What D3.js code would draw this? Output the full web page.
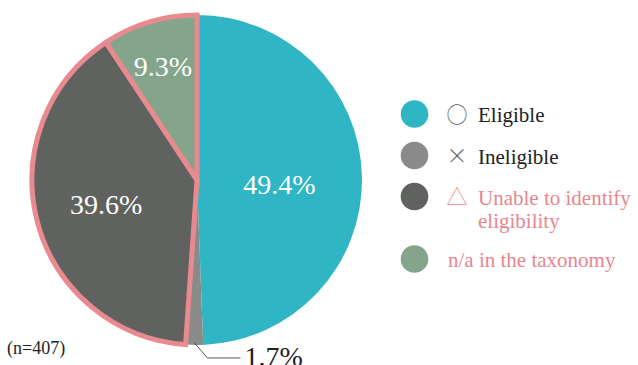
<!DOCTYPE html>
<html><head><meta charset="utf-8">
<script src="https://cdn.jsdelivr.net/npm/d3@7"></script>
<style>body{margin:0;background:#fff}svg{display:block}
text.serif{font-family:"Liberation Serif","Times New Roman",serif;}
text.sym{font-family:"Noto Sans CJK JP",sans-serif;}
</style>
</head><body>
<svg id="c" width="638" height="365"></svg>
<script>
const categories = ["Eligible","Ineligible","Unable to identify eligibility","n/a in the taxonomy"];
const values = [49.4, 1.7, 39.6, 9.3];
const valueLabels = ["49.4%","1.7%","39.6%","9.3%"];
const symbols = ["○","×","△",""];
const legendLines = [["Eligible"],["Ineligible"],["Unable to identify","eligibility"],["n/a in the taxonomy"]];
const colors = ["#2fb5c3","#8a8a8a","#60625f","#84a58c"];
const textColors = ["#222","#222","#e8868e","#e8868e"];
const outlined = [false,false,true,true];

const svg = d3.select("#c");
const cx = 197, cy = 180, r = 165;
const g = svg.append("g").attr("transform",`translate(${cx},${cy})`);
const pie = d3.pie().sort(null).value(d=>d)(values);
const arc = d3.arc().innerRadius(0).outerRadius(r);
const order = [0,1,2,3];
g.selectAll("path").data(order).join("path")
  .attr("d", i=>arc(pie[i]))
  .attr("fill", i=>colors[i])
  .attr("stroke", i=>outlined[i] ? "#e88a90" : "none")
  .attr("stroke-width", 5);

// inside labels
const labelRad = {0:0.5, 2:0.57, 3:0.72};
const labelDy = {0:6, 2:0, 3:0};
[0,2,3].forEach(i=>{
  const a = (pie[i].startAngle+pie[i].endAngle)/2;
  const rr = labelRad[i];
  const x = Math.sin(a)*r*rr, y = -Math.cos(a)*r*rr + labelDy[i];
  g.append("text").attr("class","serif").attr("x",x).attr("y",y).attr("dy","0.35em")
   .attr("text-anchor","middle").attr("fill","#fff")
   .style("font-size","28px").text(valueLabels[i]);
});
// leader for small slice
{
  const a = (pie[1].startAngle+pie[1].endAngle)/2;
  const p0 = [Math.sin(a)*(r-2), -Math.cos(a)*(r-2)];
  const p1 = [p0[0]+13, p0[1]+15];
  const p2 = [p1[0]+33, p1[1]];
  g.append("path").attr("d",d3.line()([p0,p1,p2])).attr("fill","none").attr("stroke","#555").attr("stroke-width",1);
  g.append("text").attr("class","serif").attr("x",p2[0]+4).attr("y",p1[1]+8).attr("fill","#222")
   .style("font-size","28px").text(valueLabels[1]);
}
svg.append("text").attr("class","serif").attr("x",7).attr("y",354).attr("fill","#222")
  .style("font-size","18px").text("(n=407)");

// legend
const legY = [114,155.5,196.5,259];
categories.forEach((c,i)=>{
  const y = legY[i];
  svg.append("circle").attr("cx",414.5).attr("cy",y).attr("r",13.8).attr("fill",colors[i]);
  const tx = symbols[i] ? 478 : 448;
  if(symbols[i]){
    svg.append("text").attr("class","sym").attr("x",457).attr("y",y).attr("dy","0.36em").attr("text-anchor","middle")
      .attr("fill", i===2?"#e8868e":"#555")
      .style("font-size", "21px").style("font-weight","300").text(symbols[i]);
  }
  legendLines[i].forEach((t,k)=>{
    svg.append("text").attr("class","serif").attr("x",tx).attr("y",y+8+k*23.5).attr("fill",textColors[i])
      .style("font-size","21px").text(t);
  });
});
</script>
</body></html>
